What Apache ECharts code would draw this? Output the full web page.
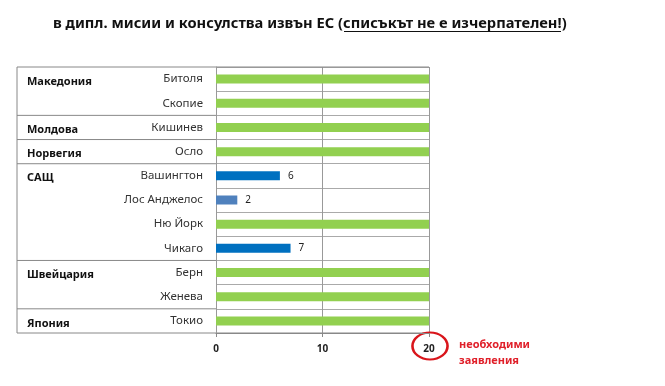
<!DOCTYPE html>
<html><head><meta charset="utf-8">
<script src="https://cdn.jsdelivr.net/npm/echarts@6/dist/echarts.min.js"></script>
<style>html,body{margin:0;padding:0;background:#fff}#c{width:665px;height:386px}</style>
</head><body><div id="c"></div>
<script>
var cities = ['Битоля','Скопие','Кишинев','Осло','Вашингтон','Лос Анджелос','Ню Йорк','Чикаго','Берн','Женева','Токио'];
var countries = ['Македония','','Молдова','Норвегия','САЩ','','','','Швейцария','','Япония'];
var values = [20,20,20,20,6,2,20,7,20,20,20];
var required = 20;
var xTicks = [0,10,20];
var titleMain = 'в дипл. мисии и консулства извън ЕС (';
var titleUnder = 'списъкът не е изчерпателен!';
var titleEnd = ')';
var noteText = 'необходими\nзаявления';

var GREEN = '#92D050', BLUE = '#0070C0', LBLUE = '#4F81BD';
var chart = echarts.init(document.getElementById('c'));
var FONT = '"Noto Sans", sans-serif';

function barColor(i){
  if (values[i] >= required) return GREEN;
  if (cities[i] === 'Лос Анджелос') return LBLUE;
  return BLUE;
}

chart.setOption({
  animation:false,
  grid:{left:216, right:236, top:67, bottom:53},
  xAxis:{type:'value', min:xTicks[0], max:xTicks[xTicks.length-1], interval:10,
    axisLine:{show:true, lineStyle:{color:'#888'}},
    axisTick:{show:true, length:4, lineStyle:{color:'#888'}},
    axisLabel:{margin:11, fontSize:10, fontWeight:'bold', color:'#222', fontFamily:FONT},
    splitLine:{show:true, lineStyle:{color:'#999'}}},
  yAxis:[
    {type:'category', data:cities, inverse:true,
     axisLine:{show:true, lineStyle:{color:'#999'}}, axisTick:{show:false},
     axisLabel:{margin:13, fontSize:11.5, color:'#333', fontFamily:FONT},
     splitLine:{show:true, lineStyle:{color:'#aaa'}}},
    {type:'category', data:countries, inverse:true, position:'left',
     axisLine:{show:false}, axisTick:{show:false}, splitLine:{show:false},
     axisLabel:{margin:189, align:'left', interval:0,
       formatter:function(v){return v ? '{c|' + v + '}' : '';},
       rich:{c:{fontSize:11, fontWeight:'bold', color:'#111', fontFamily:FONT, padding:[5,0,0,0]}}}}
  ],
  series:[{type:'bar', yAxisIndex:0, barWidth:9,
    data: values.map(function(v,i){return {value:v, itemStyle:{color:barColor(i)}};}),
    label:{show:true, position:'right', distance:8, fontSize:10, color:'#222', fontFamily:FONT,
      formatter:function(p){return p.value >= required ? '' : String(p.value);}}
  }]
});

// decorations
var y0 = chart.convertToPixel({yAxisIndex:0}, 0);
var y1 = chart.convertToPixel({yAxisIndex:0}, 1);
var band = y1 - y0;
var x0 = chart.convertToPixel({xAxisIndex:0}, 0);
var x20 = chart.convertToPixel({xAxisIndex:0}, required);
var boxL = 17;
var topY = y0 - band/2;
var botY = chart.convertToPixel({yAxisIndex:0}, cities.length-1) + band/2;
var els = [];
var ls = {stroke:'#888', lineWidth:1};
els.push({type:'line', shape:{x1:boxL, y1:topY, x2:x20, y2:topY}, style:ls});
els.push({type:'line', shape:{x1:boxL, y1:botY, x2:x20, y2:botY}, style:ls});
els.push({type:'line', shape:{x1:boxL, y1:topY, x2:boxL, y2:botY}, style:ls});
for (var i=1;i<countries.length;i++){
  if (countries[i]){
    var yb = chart.convertToPixel({yAxisIndex:0}, i) - band/2;
    els.push({type:'line', shape:{x1:boxL, y1:yb, x2:x0, y2:yb}, style:ls});
  }
}
// title
var tfont = 'bold 14.7px "Noto Sans"';
function tw(t){ return new echarts.graphic.Text({style:{text:t, font:tfont}}).getBoundingRect().width; }
var w1 = tw(titleMain), w2 = tw(titleUnder);
var tx = 53, ty = 24;
var tStyle = function(t,x){return {type:'text', x:x, y:ty, style:{text:t, font:tfont, fill:'#111', verticalAlign:'middle'}};};
els.push(tStyle(titleMain, tx));
els.push(tStyle(titleUnder, tx + w1));
els.push(tStyle(titleEnd, tx + w1 + w2));
els.push({type:'line', shape:{x1:Math.round(tx + w1)+1, y1:ty+7.5, x2:Math.round(tx+w1+w2)-1, y2:ty+7.5}, style:{stroke:'#111', lineWidth:1}});
// red ellipse around 20
els.push({type:'circle', x:x20+1, y:botY+13, scaleX:1.3, scaleY:1, shape:{cx:0, cy:0, r:13.5},
  style:{fill:'none', stroke:'#D9151B', lineWidth:2}});
els.push({type:'text', x:x20+30, y:botY+4, style:{text:noteText, font:'bold 11px "Noto Sans"', fill:'#E0202A', lineHeight:16}});
chart.setOption({graphic:{elements:els}});
</script></body></html>
